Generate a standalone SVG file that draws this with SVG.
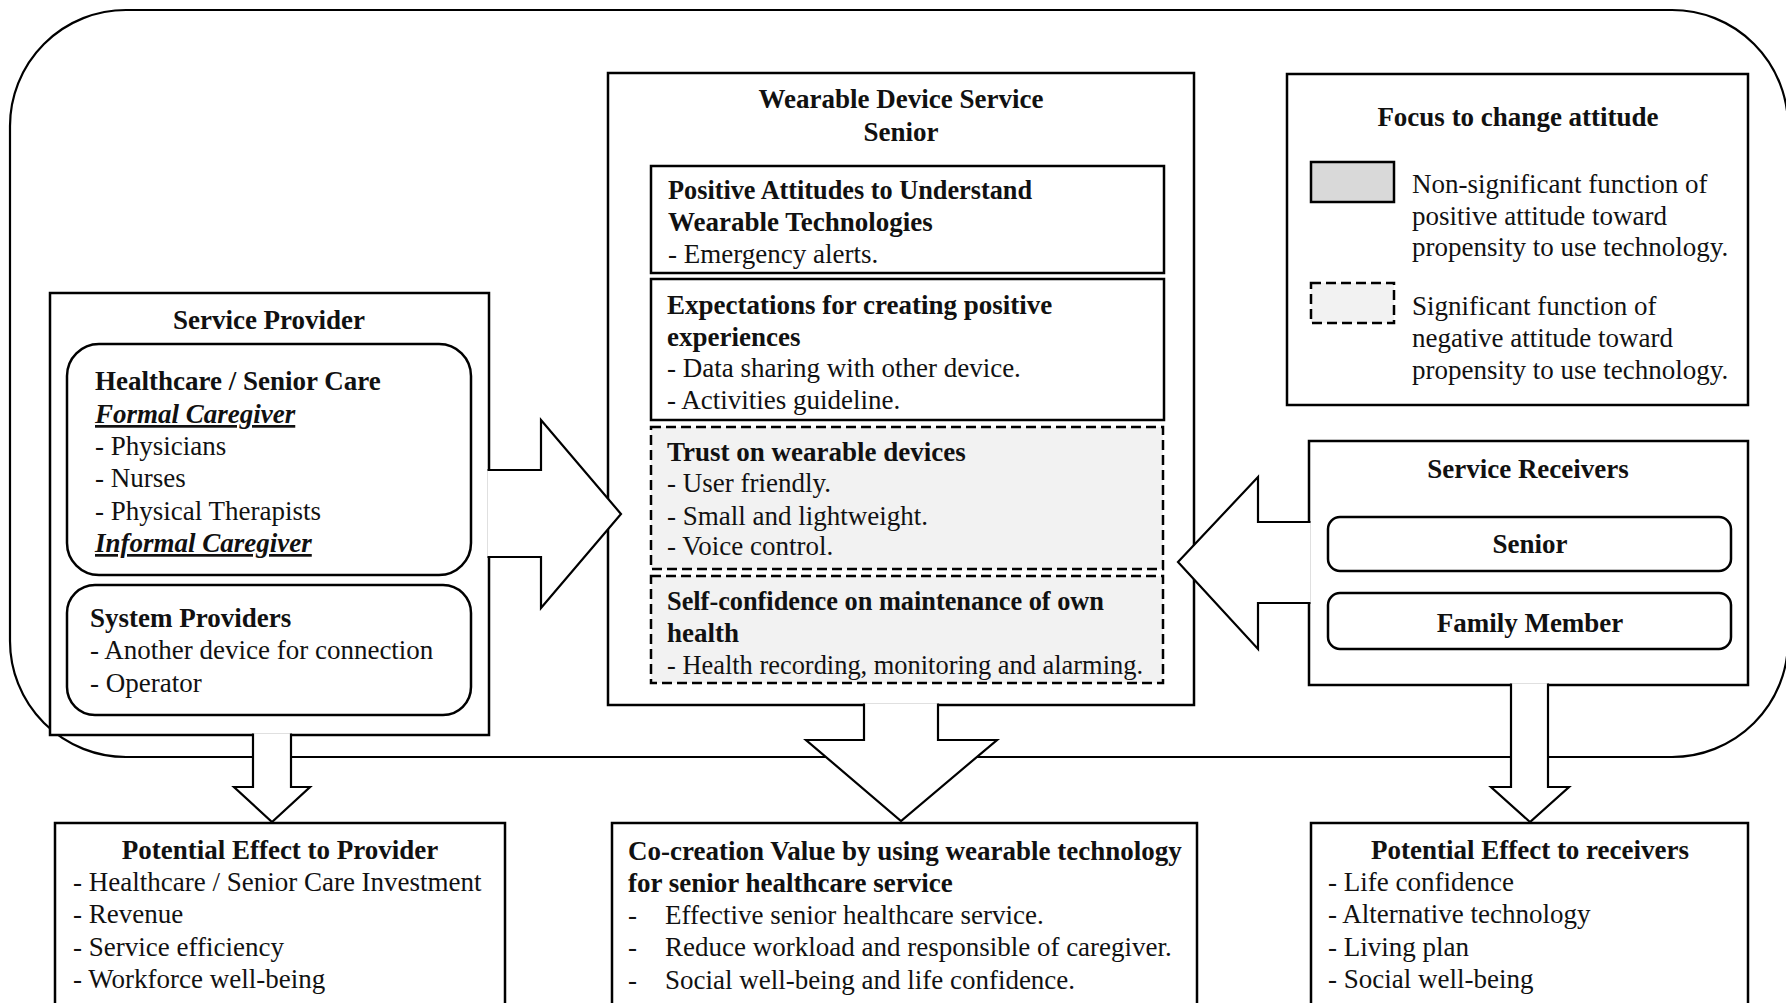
<svg xmlns="http://www.w3.org/2000/svg" width="1786" height="1003" viewBox="0 0 1786 1003">
<style>
.t{font-family:"Liberation Serif","Times New Roman",serif;font-size:27px;fill:#111}
.b{font-weight:bold}
.c{text-anchor:middle}
.u{font-style:italic;font-weight:bold;text-decoration:underline}
.box{fill:#fff;stroke:#000;stroke-width:2.5}
.dash{fill:#f2f2f2;stroke:#000;stroke-width:2.5;stroke-dasharray:10 5}
.outer{fill:none;stroke:#000;stroke-width:2.2}
.arrow{fill:#fff;stroke:#000;stroke-width:2.2;stroke-linejoin:miter}
</style>
<rect class="outer" x="10" y="10" width="1778" height="747" rx="116" ry="116"/>

<g id="service-provider">
<rect class="box" x="50" y="293" width="439" height="442"/>
<text class="t b c" x="269" y="329">Service Provider</text>
<rect class="box" x="67" y="344" width="404" height="231" rx="32" ry="32"/>
<text class="t b" x="95" y="390">Healthcare / Senior Care</text>
<text class="t u" x="95" y="423">Formal Caregiver</text>
<text class="t" x="95" y="455">- Physicians</text>
<text class="t" x="95" y="487">- Nurses</text>
<text class="t" x="95" y="520">- Physical Therapists</text>
<text class="t u" x="95" y="552">Informal Caregiver</text>
<rect class="box" x="67" y="585" width="404" height="130" rx="28" ry="28"/>
<text class="t b" x="90" y="627">System Providers</text>
<text class="t" x="90" y="659">- Another device for connection</text>
<text class="t" x="90" y="692">- Operator</text>
</g>

<g id="wearable-device-service">
<rect class="box" x="608" y="73" width="586" height="632"/>
<text class="t b c" x="901" y="108">Wearable Device Service</text>
<text class="t b c" x="901" y="141">Senior</text>
<rect class="box" x="651" y="166" width="513" height="107"/>
<text class="t b" x="668" y="199" textLength="364" lengthAdjust="spacingAndGlyphs">Positive Attitudes to Understand</text>
<text class="t b" x="668" y="231">Wearable Technologies</text>
<text class="t" x="668" y="263">- Emergency alerts.</text>
<rect class="box" x="651" y="279" width="513" height="141"/>
<text class="t b" x="667" y="314">Expectations for creating positive</text>
<text class="t b" x="667" y="346">experiences</text>
<text class="t" x="667" y="377">- Data sharing with other device.</text>
<text class="t" x="667" y="409">- Activities guideline.</text>
<rect class="dash" x="651" y="427" width="512" height="142"/>
<text class="t b" x="667" y="461">Trust on wearable devices</text>
<text class="t" x="667" y="492">- User friendly.</text>
<text class="t" x="667" y="525">- Small and lightweight.</text>
<text class="t" x="667" y="555">- Voice control.</text>
<rect class="dash" x="651" y="576" width="512" height="107"/>
<text class="t b" x="667" y="610" textLength="437" lengthAdjust="spacingAndGlyphs">Self-confidence on maintenance of own</text>
<text class="t b" x="667" y="642">health</text>
<text class="t" x="667" y="674" textLength="476" lengthAdjust="spacingAndGlyphs">- Health recording, monitoring and alarming.</text>
</g>

<g id="legend">
<rect class="box" x="1287" y="74" width="461" height="331"/>
<text class="t b c" x="1518" y="126">Focus to change attitude</text>
<rect x="1311" y="162" width="83" height="40" fill="#d9d9d9" stroke="#000" stroke-width="2.5"/>
<rect class="dash" x="1311" y="283" width="83" height="40"/>
<text class="t" x="1412" y="193">Non-significant function of</text>
<text class="t" x="1412" y="225">positive attitude toward</text>
<text class="t" x="1412" y="256">propensity to use technology.</text>
<text class="t" x="1412" y="315">Significant function of</text>
<text class="t" x="1412" y="347">negative attitude toward</text>
<text class="t" x="1412" y="379">propensity to use technology.</text>
</g>

<g id="service-receivers">
<rect class="box" x="1309" y="441" width="439" height="244"/>
<text class="t b c" x="1528" y="478">Service Receivers</text>
<rect class="box" x="1328" y="517" width="403" height="54" rx="12" ry="12"/>
<text class="t b c" x="1530" y="553">Senior</text>
<rect class="box" x="1328" y="593" width="403" height="56" rx="12" ry="12"/>
<text class="t b c" x="1530" y="632">Family Member</text>
</g>

<g id="effect-provider">
<rect class="box" x="55" y="823" width="450" height="200"/>
<text class="t b c" x="280" y="859">Potential Effect to Provider</text>
<text class="t" x="73" y="891">- Healthcare / Senior Care Investment</text>
<text class="t" x="73" y="923">- Revenue</text>
<text class="t" x="73" y="956">- Service efficiency</text>
<text class="t" x="73" y="988">- Workforce well-being</text>
</g>

<g id="co-creation">
<rect class="box" x="612" y="823" width="585" height="200"/>
<text class="t b" x="628" y="860">Co-creation Value by using wearable technology</text>
<text class="t b" x="628" y="892">for senior healthcare service</text>
<text class="t" x="628" y="924">-</text>
<text class="t" x="665" y="924">Effective senior healthcare service.</text>
<text class="t" x="628" y="956">-</text>
<text class="t" x="665" y="956">Reduce workload and responsible of caregiver.</text>
<text class="t" x="628" y="989">-</text>
<text class="t" x="665" y="989">Social well-being and life confidence.</text>
</g>

<g id="effect-receivers">
<rect class="box" x="1311" y="823" width="437" height="200"/>
<text class="t b c" x="1530" y="859">Potential Effect to receivers</text>
<text class="t" x="1328" y="891">- Life confidence</text>
<text class="t" x="1328" y="923">- Alternative technology</text>
<text class="t" x="1328" y="956">- Living plan</text>
<text class="t" x="1328" y="988">- Social well-being</text>
</g>

<g id="connectors">
<path class="arrow" d="M487.5,470 L541,470 L541,420 L621,514 L541,608 L541,557 L487.5,557"/>
<path class="arrow" d="M1310.5,522 L1258,522 L1258,477 L1178,562 L1258,649 L1258,603 L1310.5,603"/>
<path class="arrow" d="M864,703.5 L864,740 L806,740 L901,821 L997,740 L938,740 L938,703.5"/>
<path class="arrow" d="M253,733.5 L253,787 L234,787 L272,822 L310,787 L291,787 L291,733.5"/>
<path class="arrow" d="M1511,683.5 L1511,787 L1491,787 L1530,822 L1569,787 L1548,787 L1548,683.5"/>
</g>
</svg>
